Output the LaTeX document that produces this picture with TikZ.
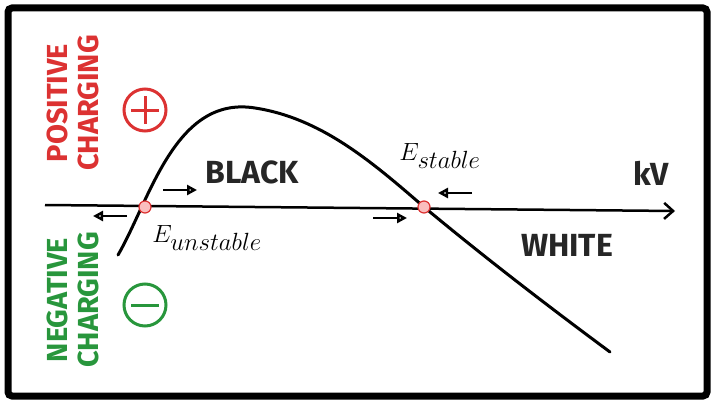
\documentclass[tikz,border=0pt]{standalone}
\usepackage{fontspec}
\setsansfont{Fira Sans}
\usetikzlibrary{arrows.meta}
\definecolor{myred}{RGB}{220,50,50}
\definecolor{mygreen}{RGB}{40,150,60}
\definecolor{mypink}{RGB}{250,190,190}
\begin{document}
\begin{tikzpicture}[x=1pt,y=-1pt,
    lbl/.style={font=\sffamily\bfseries\fontsize{32}{32}\selectfont,text=black!85},
    side/.style={font=\sffamily\bfseries\fontsize{29}{31}\selectfont,rotate=90,align=center},
    small/.style={-{Triangle[open,length=10pt,width=10pt]},line width=2.5pt},
    pt/.style={circle,draw=myred,fill=mypink,line width=1.2pt,inner sep=0pt,minimum size=12pt}
  ]
  \useasboundingbox (0,0) rectangle (715,404);
  \draw[line width=7pt,rounded corners=4pt] (8,8) rectangle (707,396);

  % the axis
  \coordinate (a0) at (45,205);
  \coordinate (a1) at (675,211);
  \draw[line width=2.5pt,-{Straight Barb[length=9pt,width=16pt]}] (a0) -- (a1);
  \node[lbl] (kv) at (651,173) {kV};

  % the curve
  \draw[line width=3pt,line cap=round] (118,255) .. controls (150,200) and (175,95) .. (255,108)
     .. controls (320,118) and (370,160) .. (424,207)
     .. controls (490,262) and (560,315) .. (610,352);

  % the equilibria
  \node[pt] (eu) at (145,207) {};
  \node[pt] (es) at (424,207) {};
  \node[font=\fontsize{34}{34}\selectfont] (lu) at (207,238) {$E_{unstable}$};
  \node[font=\fontsize{34}{34}\selectfont] (ls) at (440,156) {$E_{stable}$};

  \node[lbl] (black) at (252,172) {BLACK};
  \node[lbl] (white) at (567,245) {WHITE};

  % the small arrows
  \coordinate (s1) at (163,190); \coordinate (t1) at (197,190);
  \coordinate (s2) at (127,216); \coordinate (t2) at (93,216);
  \coordinate (s3) at (373,218); \coordinate (t3) at (407,218);
  \coordinate (s4) at (472,193); \coordinate (t4) at (438,193);
  \foreach \i in {1,...,4}
    \draw[small] (s\i) -- (t\i);

  % the signs
  \draw[myred,line width=3pt] (145,110) circle (21);
  \draw[myred,line width=3pt] (131,110) -- (159,110) (145,96) -- (145,124);
  \draw[mygreen,line width=3pt] (145,305) circle (21);
  \draw[mygreen,line width=3pt] (131,305) -- (159,305);

  \node[side,text=myred] (pos) at (73,103) {POSITIVE\\CHARGING};
  \node[side,text=mygreen] (neg) at (73,300) {NEGATIVE\\CHARGING};
\end{tikzpicture}
\end{document}
